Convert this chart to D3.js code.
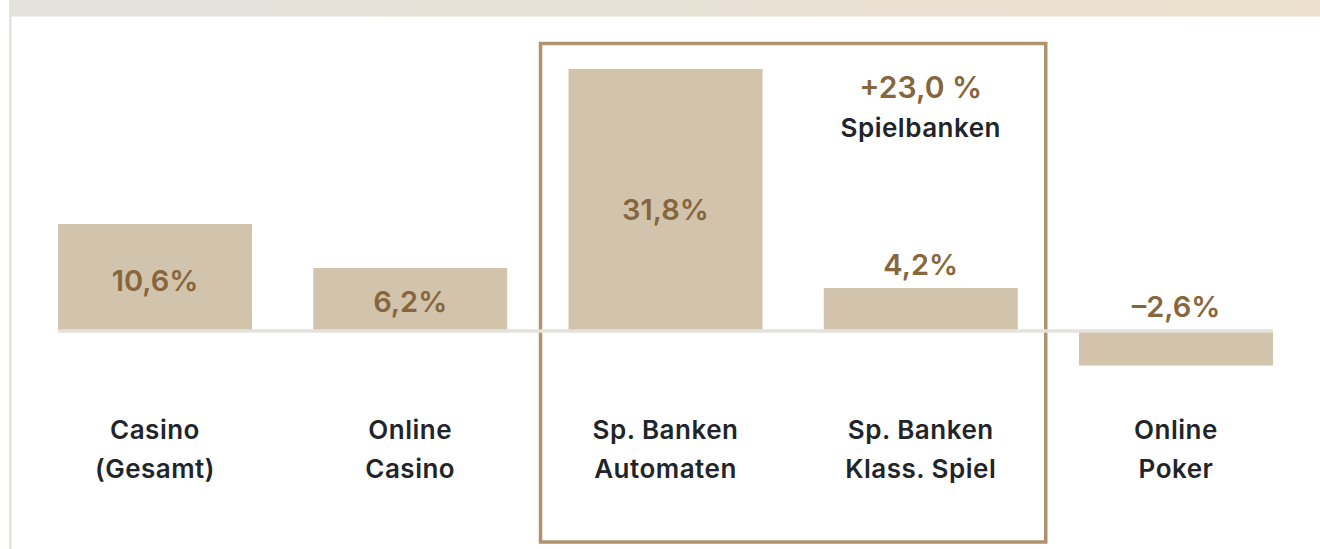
<!DOCTYPE html>
<html>
<head>
<meta charset="utf-8">
<script src="https://cdn.jsdelivr.net/npm/d3@7"></script>
<style>
  html, body { margin: 0; padding: 0; background: #fff; }
  svg { display: block; }
</style>
</head>
<body>
<div id="chart"></div>
<script>
// chart data
const categories = ['Casino\n(Gesamt)', 'Online\nCasino', 'Sp. Banken\nAutomaten', 'Sp. Banken\nKlass. Spiel', 'Online\nPoker'];
const values = [10.6, 6.2, 31.8, 4.2, -2.6];
const highlighted = ['Sp. Banken\nAutomaten', 'Sp. Banken\nKlass. Spiel'];
const highlightTotal = ['+23,0 %', 'Spielbanken'];

const dimensions = {
  width: 1320,
  height: 549,
  margin: { left: 58, right: 47 },
  baseline: 330
};

const de = d3.formatLocale({ decimal: ',', thousands: '.', grouping: [3], currency: ['', '€'], minus: '–' });
const fmt = v => de.format('.1f')(v) + '%';

const svg = d3.select('#chart').append('svg')
  .attr('width', dimensions.width)
  .attr('height', dimensions.height);

// panel frame: top band with soft gradient, thin left border
const grad = svg.append('defs').append('linearGradient').attr('id', 'band');
grad.append('stop').attr('offset', '0%').attr('stop-color', '#e3e2dd');
grad.append('stop').attr('offset', '100%').attr('stop-color', '#ece0cd');
svg.append('rect').attr('x', 9).attr('y', 0).attr('width', dimensions.width - 9).attr('height', 16.5).attr('fill', 'url(#band)');
svg.append('rect').attr('x', 9).attr('y', 16).attr('width', 2.5).attr('height', dimensions.height - 16).attr('fill', '#e3e2dd');

const xScale = d3.scaleBand()
  .domain(categories)
  .range([dimensions.margin.left, dimensions.width - dimensions.margin.right])
  .paddingInner(0.24)
  .paddingOuter(0);

// roughly 10px per percent, the tall bar is capped inside the frame
const yScale = d3.scaleLinear()
  .domain([-3, 0, 26.1])
  .range([dimensions.baseline + 41, dimensions.baseline, 69])
  .clamp(true);

const y0 = yScale(0);

// highlight box around the two Spielbanken bars
const boxLeft = xScale(highlighted[0]) - 28;
const boxRight = xScale(highlighted[1]) + xScale.bandwidth() + 28;
svg.append('rect')
  .attr('x', boxLeft)
  .attr('y', 43.5)
  .attr('width', boxRight - boxLeft)
  .attr('height', 542 - 43.5)
  .attr('fill', 'none')
  .attr('stroke', '#b0926f')
  .attr('stroke-width', 3.5);

// bars
svg.selectAll('.bar').data(categories).enter().append('rect')
  .attr('class', 'bar')
  .attr('x', d => xScale(d))
  .attr('y', (d, i) => Math.min(yScale(values[i]), y0))
  .attr('width', xScale.bandwidth())
  .attr('height', (d, i) => Math.abs(yScale(values[i]) - y0))
  .attr('fill', '#d2c3ac');

// zero line
svg.append('line')
  .attr('x1', xScale.range()[0])
  .attr('x2', xScale.range()[1])
  .attr('y1', y0 + 1)
  .attr('y2', y0 + 1)
  .attr('stroke', '#e3e2dd')
  .attr('stroke-width', 3.5);

const font = "Inter, 'Noto Sans', sans-serif";

// value labels: inside tall bars, above short ones
svg.selectAll('.value').data(categories).enter().append('text')
  .attr('class', 'value')
  .attr('x', d => xScale(d) + xScale.bandwidth() / 2)
  .attr('y', (d, i) => {
    const h = y0 - yScale(values[i]);
    if (h > 50) return y0 - 0.46 * h;
    return Math.min(yScale(values[i]), y0) - 23;
  })
  .attr('dy', '0.35em')
  .attr('text-anchor', 'middle')
  .attr('font-family', font)
  .attr('font-weight', 600)
  .attr('font-size', '29px')
  .attr('fill', '#86663c')
  .text((d, i) => fmt(values[i]));

// category labels
const cat = svg.selectAll('.cat').data(categories).enter().append('text')
  .attr('class', 'cat')
  .attr('text-anchor', 'middle')
  .attr('font-family', font)
  .attr('font-weight', 600)
  .attr('font-size', '26px')
  .attr('letter-spacing', '0.5px')
  .attr('fill', '#212529');
cat.selectAll('tspan').data(d => d.split('\n').map(t => ({ t, d }))).enter().append('tspan')
  .attr('x', o => xScale(o.d) + xScale.bandwidth() / 2)
  .attr('y', (o, j) => 430 + j * 39)
  .attr('dy', '0.35em')
  .text(o => o.t);

// total annotation for the highlighted group
const annX = xScale(highlighted[1]) + xScale.bandwidth() / 2;
svg.append('text')
  .attr('x', annX).attr('y', 87).attr('dy', '0.35em')
  .attr('text-anchor', 'middle')
  .attr('font-family', font).attr('font-weight', 600).attr('font-size', '30px')
  .attr('fill', '#86663c')
  .text(highlightTotal[0]);
svg.append('text')
  .attr('x', annX).attr('y', 128).attr('dy', '0.35em')
  .attr('text-anchor', 'middle')
  .attr('font-family', font).attr('font-weight', 600).attr('font-size', '26px')
  .attr('letter-spacing', '0.5px')
  .attr('fill', '#212529')
  .text(highlightTotal[1]);
</script>
</body>
</html>
